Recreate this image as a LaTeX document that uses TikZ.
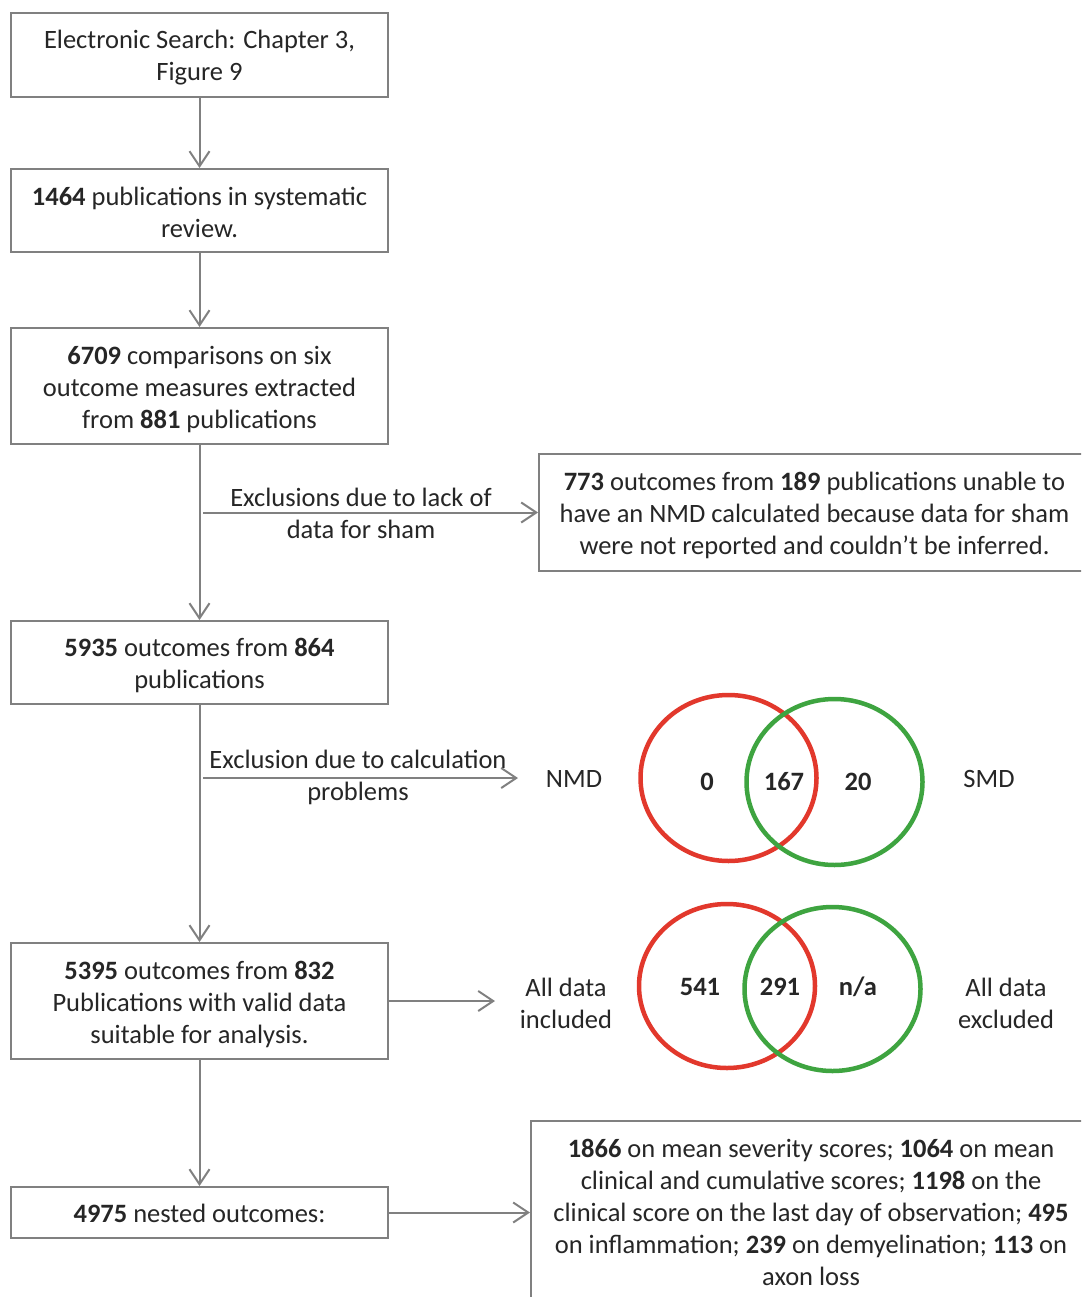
\documentclass[tikz,border=0pt]{standalone}
\usepackage{fontspec}
\setmainfont{Carlito}
\usetikzlibrary{arrows.meta}
\definecolor{linegray}{RGB}{128,128,128}
\definecolor{txt}{RGB}{38,38,38}
\definecolor{vred}{RGB}{226,56,44}
\definecolor{vgreen}{RGB}{62,164,64}
\tikzset{
  every node/.style={text=txt, font=\fontsize{26.5}{32}\selectfont, align=center},
  flowbox/.style={draw=linegray, line width=2pt, rectangle, minimum width=377pt, inner sep=0pt},
  arr/.style={draw=linegray, line width=2pt, -{Straight Barb[length=15pt,width=20pt,line width=2pt]}},
  vring/.style={line width=4.5pt},
}
\begin{document}
\begin{tikzpicture}[x=1pt,y=-1pt]
\clip (0,0) rectangle (1081,1297);
\fill[white] (0,0) rectangle (1081,1297);
% main boxes
\node[flowbox, minimum height=84pt] (b1) at (199.5,55) {};
\node[flowbox, minimum height=83pt] (b2) at (199.5,210.5) {};
\node[flowbox, minimum height=116pt] (b3) at (199.5,386) {};
\node[flowbox, minimum height=83pt] (b4) at (199.5,662.5) {};
\node[flowbox, minimum height=116pt] (b5) at (199.5,1001) {};
\node[flowbox, minimum height=51pt] (b6) at (199.5,1212.5) {};
\node[flowbox, minimum width=551pt, minimum height=117pt] (r1) at (814.5,512.5) {};
\node[flowbox, minimum width=560pt, minimum height=182pt] (r2) at (811,1212) {};
% box texts
\node (t1) at (199.5,58) {Electronic Search: Chapter 3,\\Figure 9};
\node (t2) at (199.5,212) {\textbf{1464} publications in systematic\\review.};
\node (t3) at (199.5,389.5) {\textbf{6709} comparisons on six\\outcome measures extracted\\from \textbf{881} publications};
\node (t4) at (199.5,665.5) {\textbf{5935} outcomes from \textbf{864}\\publications};
\node (t5) at (199.5,1004) {\textbf{5395} outcomes from \textbf{832}\\Publications with valid data\\suitable for analysis.};
\node (t6) at (199.5,1213.5) {\textbf{4975} nested outcomes:};
\node (tr1) at (814.5,515.5) {\textbf{773} outcomes from \textbf{189} publications unable to\\have an NMD calculated because data for sham\\were not reported and couldn’t be inferred.};
\node (tr2) at (811,1212) {\textbf{1866} on mean severity scores; \textbf{1064} on mean\\clinical and cumulative scores; \textbf{1198} on the\\clinical score on the last day of observation; \textbf{495}\\on inflammation; \textbf{239} on demyelination; \textbf{113} on\\axon loss};
% vertical arrows
\draw[arr] (b1.south) -- (b2.north);
\draw[arr] (b2.south) -- (b3.north);
\draw[arr] (b3.south) -- (b4.north);
\draw[arr] (b4.south) -- (b5.north);
\draw[arr] (b5.south) -- (b6.north);
% side arrows
\coordinate (e1) at (203,512.5);
\coordinate (e2s) at (203,778);
\coordinate (e2e) at (518,778);
\coordinate (e3e) at (495,1001);
\draw[arr] (e1) -- (r1.west);
\draw[arr] (e2s) -- (e2e);
\draw[arr] (b5.east) -- (e3e);
\draw[arr] (b6.east) -- (b6.east -| r2.west);
% arrow labels
\node (l1) at (361,513) {Exclusions due to lack of\\data for sham};
\node (l2) at (358,777) {Exclusion due to calculation\\problems};
% Venn 1
\draw[vred, vring] (728.5,778) ellipse [x radius=88pt, y radius=83pt];
\draw[vgreen, vring] (834.5,782) ellipse [x radius=88pt, y radius=83pt];
\node (v0) at (707,782) {\textbf{0}};
\node (v167) at (784,782) {\textbf{167}};
\node (v20) at (858,782) {\textbf{20}};
\node (nmd) at (574,779) {NMD};
\node (smd) at (989,779) {SMD};
% Venn 2
\draw[vred, vring] (727,986) ellipse [x radius=88pt, y radius=82pt];
\draw[vgreen, vring] (832.5,989) ellipse [x radius=88pt, y radius=82pt];
\node (v541) at (700,987) {\textbf{541}};
\node (v291) at (780,987) {\textbf{291}};
\node (vna) at (858,987) {\textbf{n/a}};
\node (inc) at (566,1003) {All data\\included};
\node (exc) at (1006,1003) {All data\\excluded};
\end{tikzpicture}
\end{document}
